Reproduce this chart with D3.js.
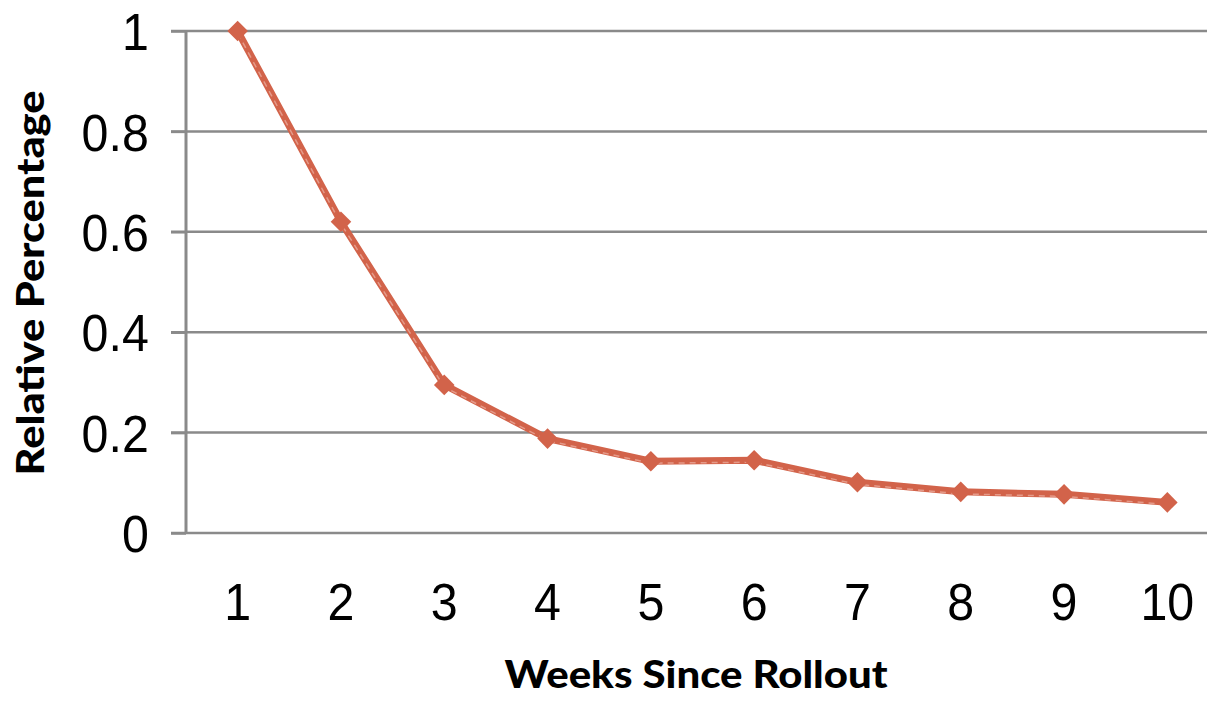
<!DOCTYPE html>
<html>
<head>
<meta charset="utf-8">
<script src="https://cdn.jsdelivr.net/npm/d3@7"></script>
<style>
  html, body { margin: 0; padding: 0; background: #fff; }
  svg { display: block; }
</style>
</head>
<body>
<svg id="chart" width="1207" height="701"></svg>
<script>
// Weekly relative percentage after rollout
const weeks = [1, 2, 3, 4, 5, 6, 7, 8, 9, 10];
const relativePct = [1.0, 0.62, 0.295, 0.188, 0.143, 0.145, 0.101, 0.082, 0.077, 0.061];
const yTicks = [0, 0.2, 0.4, 0.6, 0.8, 1];
const yTickLabels = ["0", "0.2", "0.4", "0.6", "0.8", "1"];
const xTitle = "Weeks Since Rollout";
const yTitle = "Relative Percentage";

const svg = d3.select("#chart");
const W = 1207, H = 701;
const plotLeft = 186, plotTop = 31, plotBottom = 533, plotRight = 1219;

const x = d3.scaleBand().domain(weeks).range([plotLeft, plotRight]).padding(0);
const y = d3.scaleLinear().domain([0, 1]).range([plotBottom, plotTop]);

const gridColor = "#8a8a8a";
const seriesColor = "#d2634a";

// horizontal gridlines
svg.append("g")
  .selectAll("line")
  .data(yTicks)
  .join("line")
  .attr("x1", plotLeft - 15)
  .attr("x2", W)
  .attr("y1", d => y(d))
  .attr("y2", d => y(d))
  .attr("stroke", gridColor)
  .attr("stroke-width", 2.5);

// vertical axis with outward ticks
const yAxis = d3.axisLeft(y)
  .tickValues(yTicks)
  .tickFormat((d, i) => yTickLabels[i])
  .tickSize(15)
  .tickPadding(25);

const gy = svg.append("g")
  .attr("transform", `translate(${plotLeft},0)`)
  .call(yAxis);
gy.select(".domain").remove();
gy.append("line")
  .attr("x1", 0).attr("x2", 0)
  .attr("y1", plotTop - 1).attr("y2", plotBottom + 1)
  .attr("stroke", gridColor).attr("stroke-width", 3);
gy.selectAll(".tick line").attr("stroke", gridColor).attr("stroke-width", 2.5);
gy.selectAll(".tick text")
  .attr("font-family", "'Liberation Sans', Arial, sans-serif")
  .attr("font-size", 52)
  .attr("fill", "#000")
  .attr("dy", "0.36em")
  .attr("transform", "scale(0.93,1)");

// category axis labels
const xAxis = d3.axisBottom(x).tickSize(0).tickPadding(50);
const gx = svg.append("g")
  .attr("transform", `translate(0,${plotBottom})`)
  .call(xAxis);
gx.select(".domain").remove();
gx.selectAll(".tick text")
  .attr("font-family", "'Liberation Sans', Arial, sans-serif")
  .attr("font-size", 52)
  .attr("fill", "#000")
  .attr("transform", "scale(0.93,1)");

// series line
const line = d3.line()
  .x((d, i) => x(weeks[i]) + x.bandwidth() / 2)
  .y(d => y(d));

svg.append("path")
  .datum(relativePct)
  .attr("d", line)
  .attr("fill", "none")
  .attr("stroke", seriesColor)
  .attr("stroke-width", 7)
  .attr("stroke-linejoin", "round");

// soft highlight along the lower edge of the line
svg.append("path")
  .datum(relativePct)
  .attr("d", line)
  .attr("transform", "translate(0,2)")
  .attr("fill", "none")
  .attr("stroke", "#eaa898")
  .attr("stroke-width", 1.5)
  .attr("stroke-dasharray", "6,5")
  .attr("opacity", 0.8);

// diamond markers
svg.append("g")
  .selectAll("path")
  .data(relativePct)
  .join("path")
  .attr("d", d3.symbol().type(d3.symbolDiamond2).size(270))
  .attr("transform", (d, i) => `translate(${x(weeks[i]) + x.bandwidth() / 2},${y(d)})`)
  .attr("fill", seriesColor);

// axis titles
svg.append("text")
  .attr("x", 696)
  .attr("y", 688)
  .attr("text-anchor", "middle")
  .attr("font-family", "Lato, 'Open Sans', sans-serif")
  .attr("font-weight", 900)
  .attr("font-size", 37)
  .attr("textLength", 383)
  .attr("lengthAdjust", "spacingAndGlyphs")
  .attr("fill", "#000")
  .text(xTitle);

svg.append("text")
  .attr("transform", "translate(44,283) rotate(-90)")
  .attr("text-anchor", "middle")
  .attr("font-family", "Lato, 'Open Sans', sans-serif")
  .attr("font-weight", 900)
  .attr("font-size", 37)
  .attr("textLength", 385)
  .attr("lengthAdjust", "spacingAndGlyphs")
  .attr("fill", "#000")
  .text(yTitle);
</script>
</body>
</html>
